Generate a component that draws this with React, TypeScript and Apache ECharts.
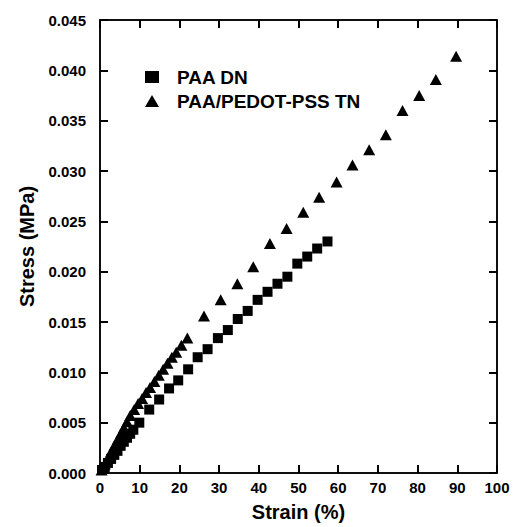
import React, { useEffect, useRef } from "react";
import * as echarts from "echarts";

const dnStrain = [0.5, 1.2, 2.0, 2.8, 3.6, 4.4, 5.2, 6.0, 6.8, 7.6, 8.4, 9.9, 12.4, 14.9, 17.4, 19.7, 22.2, 24.6, 27.1, 29.7, 32.2, 34.7, 37.2, 39.7, 42.2, 44.7, 47.2, 49.7, 52.2, 54.7, 57.3];
const dnStress = [0.0003, 0.0006, 0.001, 0.0014, 0.0018, 0.0022, 0.0027, 0.0031, 0.0035, 0.0039, 0.0043, 0.005, 0.0063, 0.0073, 0.0084, 0.0092, 0.0103, 0.0115, 0.0123, 0.0134, 0.0142, 0.0153, 0.0161, 0.0172, 0.018, 0.0188, 0.0195, 0.0208, 0.0215, 0.0223, 0.023];

const tnStrain = [0.4, 1.2, 2.0, 2.8, 3.6, 4.4, 5.2, 6.0, 6.8, 7.6, 8.6, 9.6, 10.6, 11.6, 12.6, 13.7, 14.8, 15.9, 17.0, 18.1, 19.2, 20.5, 22.0, 26.2, 30.4, 34.6, 38.6, 42.8, 47.0, 51.2, 55.2, 59.6, 63.6, 67.8, 72.0, 76.2, 80.4, 84.6, 89.7];
const tnStress = [0.0003, 0.0009, 0.0015, 0.0021, 0.0027, 0.0033, 0.0039, 0.0045, 0.0051, 0.0057, 0.0063, 0.0069, 0.0074, 0.008, 0.0085, 0.0091, 0.0097, 0.0103, 0.0109, 0.0115, 0.012, 0.0127, 0.0134, 0.0156, 0.0172, 0.0188, 0.0205, 0.0228, 0.0243, 0.0259, 0.0274, 0.0289, 0.0306, 0.0321, 0.0336, 0.036, 0.0375, 0.0391, 0.0414];

const seriesNames = ["PAA DN", "PAA/PEDOT-PSS TN"];
const xTicks = { min: 0, max: 100, interval: 10 };
const yTicks = { min: 0, max: 0.045, interval: 0.005 };

const FONT = "'Liberation Sans', Arial, Helvetica, sans-serif";

export default function App() {
  const ref = useRef<HTMLDivElement>(null);
  useEffect(() => {
    if (!ref.current) return;
    const chart = echarts.init(ref.current, undefined, { renderer: "svg" });
    const mkLine = () => ({ show: true, onZero: false, lineStyle: { color: "#000", width: 1.5 } });
    const mkTick = () => ({ show: true, inside: true, length: 8, lineStyle: { color: "#000", width: 2 } });
    const label = { color: "#000", fontWeight: "bold" as const, fontSize: 15, fontFamily: FONT };
    const nameStyle = { color: "#000", fontWeight: "bold" as const, fontSize: 20, fontFamily: FONT };
    chart.setOption({
      animation: false,
      grid: { left: 100, right: 21, top: 20, bottom: 54, show: true, borderColor: "#000", borderWidth: 1.5 },
      legend: {
        orient: "vertical",
        left: 140,
        top: 60,
        itemWidth: 14,
        itemHeight: 12,
        itemGap: 0,
        data: seriesNames,
        textStyle: { color: "#000", fontWeight: "bold", fontSize: 19, fontFamily: FONT, lineHeight: 24, padding: [0, 0, 0, 13] },
      },
      xAxis: [
        {
          type: "value", position: "bottom", ...xTicks,
          axisLine: mkLine(), axisTick: mkTick(), splitLine: { show: false },
          axisLabel: { ...label, margin: 7 },
          name: "Strain (%)", nameLocation: "middle", nameGap: 29, nameTextStyle: nameStyle,
        },
        {
          type: "value", position: "top", ...xTicks,
          axisLine: mkLine(), axisTick: mkTick(), splitLine: { show: false }, axisLabel: { show: false },
        },
      ],
      yAxis: [
        {
          type: "value", position: "left", ...yTicks,
          axisLine: mkLine(), axisTick: mkTick(), splitLine: { show: false },
          axisLabel: { ...label, margin: 14, formatter: (v: number) => v.toFixed(3) },
          name: "Stress (MPa)", nameLocation: "middle", nameGap: 63, nameTextStyle: nameStyle,
        },
        {
          type: "value", position: "right", ...yTicks,
          axisLine: mkLine(), axisTick: mkTick(), splitLine: { show: false }, axisLabel: { show: false },
        },
      ],
      series: [
        {
          name: seriesNames[0], type: "scatter", symbol: "rect", symbolSize: 10,
          itemStyle: { color: "#000", opacity: 1 },
          data: dnStrain.map((x, i) => [x, dnStress[i]]),
        },
        {
          name: seriesNames[1], type: "scatter", symbol: "triangle", symbolSize: [12, 11],
          itemStyle: { color: "#000", opacity: 1 },
          data: tnStrain.map((x, i) => [x, tnStress[i]]),
        },
      ],
    });
    return () => chart.dispose();
  }, []);
  return <div ref={ref} style={{ width: 518, height: 527, margin: "-8px 0 0 -8px" }} />;
}
